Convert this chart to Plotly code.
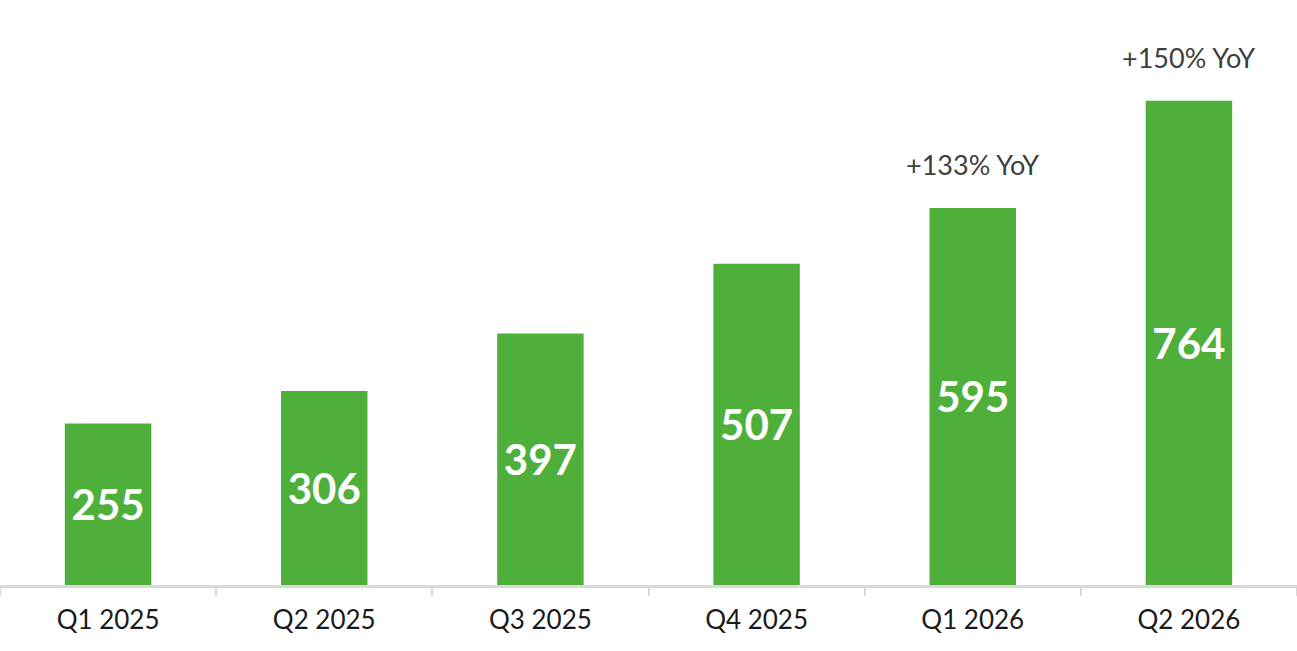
import plotly.graph_objects as go

quarters = ['Q1 2025', 'Q2 2025', 'Q3 2025', 'Q4 2025', 'Q1 2026', 'Q2 2026']
values = [255, 306, 397, 507, 595, 764]
yoy_notes = {'Q1 2026': '+133% YoY', 'Q2 2026': '+150% YoY'}

green = '#4FAF3B'
font_family = 'Lato, Noto Sans, sans-serif'

fig = go.Figure(go.Bar(
    x=quarters,
    y=values,
    width=0.4,
    marker=dict(color=green, line=dict(width=0)),
    text=[str(v) for v in values],
    textposition='inside',
    insidetextanchor='middle',
    textangle=0,
    textfont=dict(family=font_family, size=42, color='white', weight='bold'),
    hoverinfo='skip',
))

for q, note in yoy_notes.items():
    v = values[quarters.index(q)]
    fig.add_annotation(
        x=q, y=v, text=note, showarrow=False,
        yanchor='bottom', yshift=25,
        font=dict(family=font_family, size=27, color='#404040'),
    )

fig.update_layout(
    width=1297, height=651,
    margin=dict(l=0, r=0, t=0, b=66),
    plot_bgcolor='white', paper_bgcolor='white',
    showlegend=False,
)
fig.update_xaxes(
    showline=True, linecolor='#D9D9D9', linewidth=3,
    ticks='outside', tickson='boundaries', ticklen=8,
    tickcolor='#D9D9D9', tickwidth=2,
    tickfont=dict(family=font_family, size=26, color='#1a1a1a'),
    ticklabelstandoff=10,
    showgrid=False,
)
fig.update_yaxes(visible=False, range=[0, 923], showgrid=False)

# drop the browser's default body margin so the figure sits at (0, 0)
fig.write_html('out.html', config={'displayModeBar': False},
               post_script="document.body.style.margin = '0';")
